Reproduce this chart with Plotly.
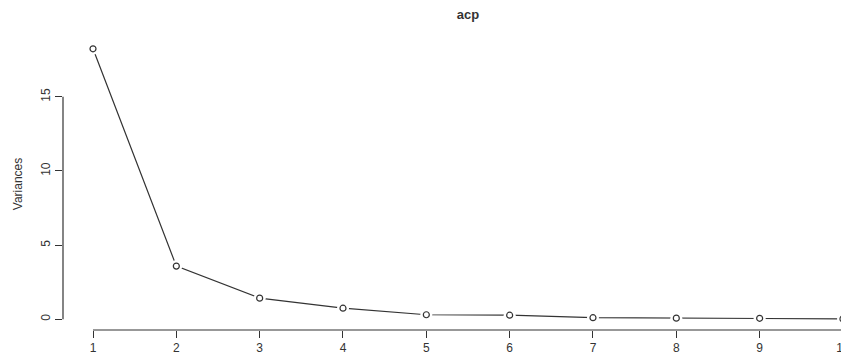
import plotly.graph_objects as go

components = list(range(1, 11))
variances = [18.24, 3.58, 1.42, 0.74, 0.30, 0.27, 0.10, 0.07, 0.06, 0.02]
y_ticks = [0, 5, 10, 15]
title = "acp"
ylabel = "Variances"

ink = "#333333"
font = "Liberation Sans, Arial, sans-serif"

# page body has an 8px default margin, so the figure is sized/offset to compensate
W, H = 849, 352

fig = go.Figure()
fig.add_trace(go.Scatter(x=components, y=variances, mode="lines",
                         line=dict(color=ink, width=1.2), hoverinfo="skip", cliponaxis=False))
fig.add_trace(go.Scatter(x=components, y=variances, mode="markers",
                         marker=dict(symbol="circle", size=12, color="white", line=dict(width=0)),
                         hoverinfo="skip", cliponaxis=False))
fig.add_trace(go.Scatter(x=components, y=variances, mode="markers", cliponaxis=False,
                         marker=dict(symbol="circle-open", size=6, color=ink, line=dict(width=1.2))))

# detached R-style axis lines
fig.add_shape(type="line", xref="x", yref="paper", x0=min(components), x1=max(components),
              y0=0, y1=0, line=dict(color=ink, width=1.2))
fig.add_shape(type="line", xref="paper", yref="y", x0=0, x1=0,
              y0=min(y_ticks), y1=max(y_ticks), line=dict(color=ink, width=1.2))

fig.update_layout(
    width=W, height=H,
    margin=dict(l=55, r=0, t=30, b=30, autoexpand=False),
    paper_bgcolor="white", plot_bgcolor="white",
    showlegend=False,
    font=dict(family=font, color=ink, size=12),
    title=dict(text="<b>" + title + "</b>", x=460 / W, xref="container", xanchor="center",
               y=1 - 1.5 / H, yref="container", yanchor="top",
               font=dict(size=13, color=ink), automargin=False),
    xaxis=dict(range=[0.64, 0.64 + 794 / 83.33], showgrid=False, zeroline=False, showline=False,
               automargin=False, ticklabeloverflow="allow",
               tickmode="array", tickvals=components, ticktext=[str(c) for c in components],
               ticks="outside", ticklen=7, tickcolor=ink, tickwidth=1.2,
               tickfont=dict(size=12, color=ink)),
    yaxis=dict(range=[-0.73, 18.97], showgrid=False, zeroline=False, showline=False,
               automargin=False,
               tickmode="array", tickvals=y_ticks, ticktext=[str(v) for v in y_ticks],
               ticks="outside", ticklen=7, tickcolor=ink, tickwidth=1.2, tickangle=-90,
               tickfont=dict(size=12, color=ink),
               title=dict(text=ylabel, standoff=14, font=dict(size=12, color=ink))),
)

fig.write_html("out.html")
